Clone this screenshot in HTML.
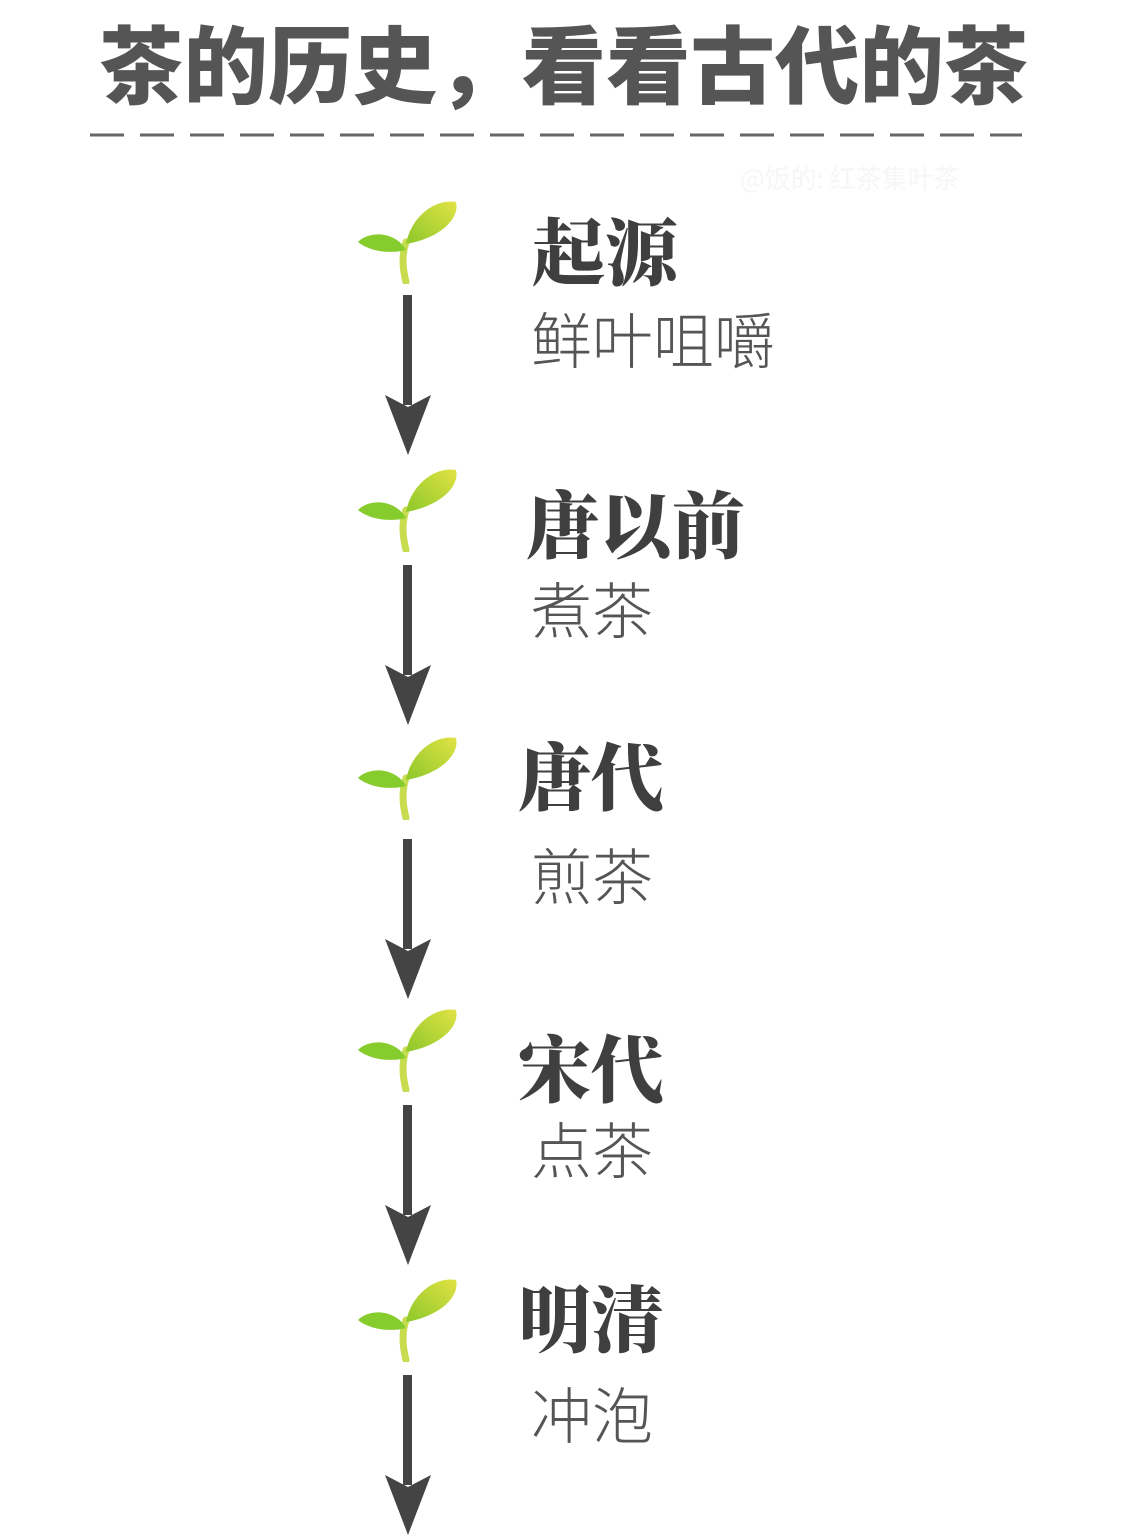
<!DOCTYPE html>
<html><head><meta charset="utf-8"><style>
body{margin:0;width:1125px;height:1490px;background:#fff;position:relative;overflow:hidden;font-family:"Liberation Sans","Noto Sans CJK SC",sans-serif;color:#4a4a4a}
.t{position:absolute;white-space:nowrap;line-height:1}
.h{font-weight:900;font-size:73px;color:#3f3f3f;font-family:"Noto Serif CJK SC","Noto Sans CJK SC",serif}
.s{font-size:61px;color:#555;font-weight:300}
.sp{position:absolute;left:356px;width:104px;height:88px}
.ar{position:absolute;left:385px;width:46px}
</style></head><body>
<div class="t" style="left:99px;top:26px;font-size:84.5px;font-weight:900;color:#555">茶的历史，看看古代的茶</div>
<svg style="position:absolute;left:0;top:0" width="1125" height="200"><defs><linearGradient id="g" x1="0" y1="1" x2="1" y2="0"><stop offset="0" stop-color="#8cc82a"/><stop offset="1" stop-color="#e0e040"/></linearGradient></defs><line x1="90" y1="135" x2="1022" y2="135" stroke="#666" stroke-width="3" stroke-dasharray="34 16"/>
<text x="740" y="188" font-size="26" fill="#f6f6f6" font-family="Noto Sans CJK SC">@饭的: 红茶集叶茶</text></svg>
<svg width="0" height="0" style="position:absolute"><defs>
<linearGradient id="lg" x1="0" y1="1" x2="1" y2="0"><stop offset="0" stop-color="#8cc82a"/><stop offset="1" stop-color="#e2e244"/></linearGradient>
<symbol id="sp" viewBox="0 0 104 88">
<path d="M50 86 C46 70 46 58 50 46" stroke="#c8dc50" stroke-width="7" fill="none" stroke-linecap="round"/>
<path d="M50 48 C55 20 80 2 100 6 C104 22 85 42 50 48Z" fill="url(#lg)"/>
<path d="M50 54 C40 36 14 34 2 46 C14 56 36 58 50 54Z" fill="#86cc2c"/>
</symbol>
<symbol id="ar" viewBox="0 0 46 160"><rect x="18" y="0" width="9" height="110" fill="#444"/><path d="M0 100 L23 160 L46 100 L23 112Z" fill="#444"/></symbol>
</defs></svg>
<svg class="sp" style="top:196px"><use href="#sp"/></svg>
<svg class="sp" style="top:464px"><use href="#sp"/></svg>
<svg class="sp" style="top:732px"><use href="#sp"/></svg>
<svg class="sp" style="top:1004px"><use href="#sp"/></svg>
<svg class="sp" style="top:1274px"><use href="#sp"/></svg>
<svg class="ar" style="top:295px;height:160px"><use href="#ar"/></svg>
<svg class="ar" style="top:565px;height:160px"><use href="#ar"/></svg>
<svg class="ar" style="top:838px;height:162px"><use href="#ar"/></svg>
<svg class="ar" style="top:1105px;height:160px"><use href="#ar"/></svg>
<svg class="ar" style="top:1375px;height:160px"><use href="#ar"/></svg>
<div class="t h" style="left:532px;top:211px">起源</div>
<div class="t s" style="left:531px;top:312px">鲜叶咀嚼</div>
<div class="t h" style="left:526px;top:484px">唐以前</div>
<div class="t s" style="left:531px;top:582px">煮茶</div>
<div class="t h" style="left:518px;top:736px">唐代</div>
<div class="t s" style="left:531px;top:848px">煎茶</div>
<div class="t h" style="left:518px;top:1028px">宋代</div>
<div class="t s" style="left:531px;top:1122px">点茶</div>
<div class="t h" style="left:518px;top:1278px">明清</div>
<div class="t s" style="left:531px;top:1387px">冲泡</div>
</body></html>
